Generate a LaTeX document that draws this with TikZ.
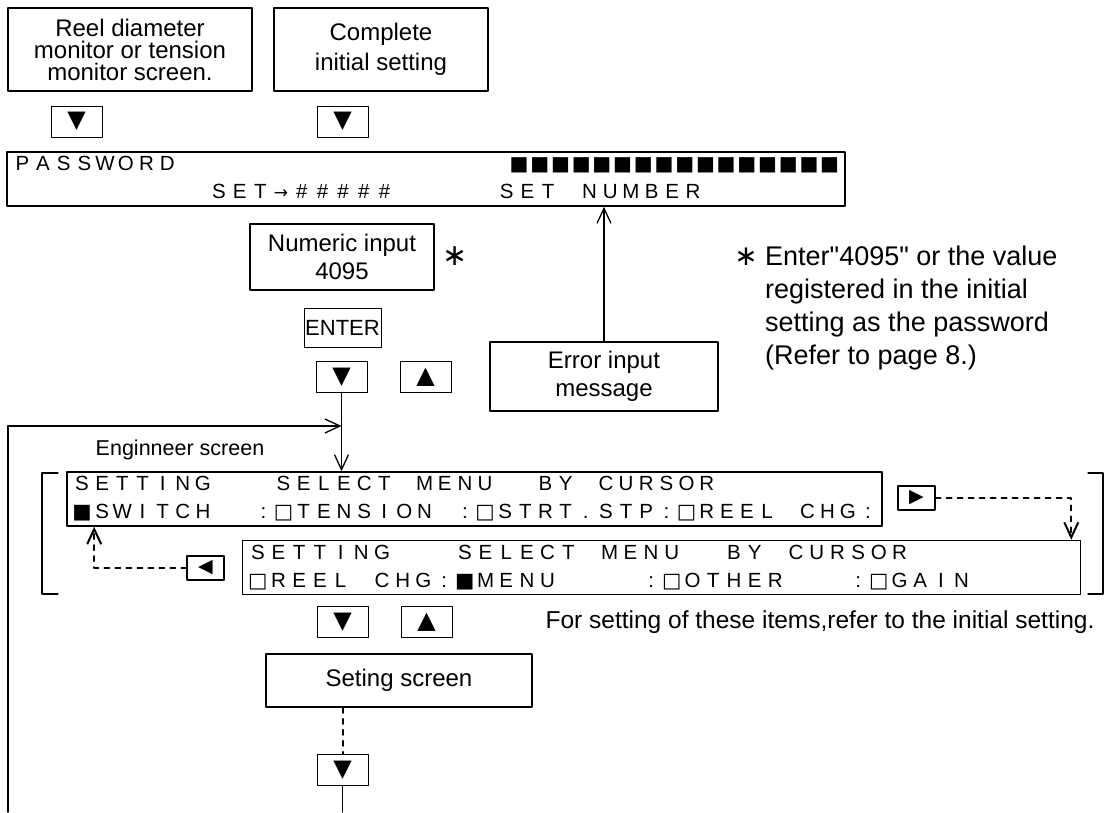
\documentclass[tikz,border=0pt]{standalone}
\usepackage{fontspec}
\setmainfont{Liberation Sans}
\newfontfamily\symfont{DejaVu Sans}
\usetikzlibrary{arrows.meta, calc, positioning}
% one LCD cell per character
\newlength\lcdw
\setlength\lcdw{20.7pt}
\def\lcdend{\lcdend}
\def\lcdnext#1{\ifx#1\lcdend\else\makebox[\lcdw]{#1}\expandafter\lcdnext\fi}
\newcommand\lcd[1]{\lcdnext#1\lcdend}
\newcommand\lcdgap[1]{\hspace*{#1\lcdw}}
\newcommand\blk{{\symfont ■}}
\newcommand\bigblk{{\symfont\fontsize{20}{20}\selectfont ■}}
\newcommand\wht{{\symfont □}}
\newcommand\lcdarrow{{\symfont\fontsize{17}{17}\selectfont →}}
\newcommand\lcdstrut{\rule[-5pt]{0pt}{21pt}}
\tikzset{
  >={Straight Barb[length=15pt, width=14pt]},
  every picture/.style={line cap=round, line join=round},
  px/.style={x=1pt, y=-1pt},
  label box/.style={draw, line width=1.6pt, align=center, inner sep=0pt, font=\fontsize{24}{28}\selectfont},
  keybox/.style={draw, line width=0.9pt, inner sep=0pt, minimum width=51pt, minimum height=31pt, font=\symfont\fontsize{24}{24}\selectfont},
  smallkey/.style={keybox, line width=1.4pt, minimum width=37pt, minimum height=24pt, font=\symfont\fontsize{19}{19}\selectfont},
  lcd box/.style={draw, line width=1.6pt, text width=828pt, align=left, inner xsep=5pt, inner ysep=0pt, minimum height=54pt, font=\fontsize{20.5}{28}\selectfont},
  flow/.style={line width=1.3pt},
  cursorline/.style={line width=2pt, dash pattern=on 5pt off 6pt},
  notetext/.style={inner sep=0pt, font=\fontsize{27}{33}\selectfont},
}
\begin{document}
\begin{tikzpicture}[px]
  \useasboundingbox (0,0) rectangle (1104,812);
  % where we come from
  \node[label box, minimum width=244pt, minimum height=83pt, font=\fontsize{24}{22}\selectfont] (reel) at (130,49.5) {Reel diameter\\monitor or tension\\monitor screen.};
  \node[label box, minimum width=214pt, minimum height=83pt, font=\fontsize{24}{30}\selectfont] (init) at (381,49.5) {Complete\\initial setting};
  \node[keybox] (reeldown) at (76.5,121.5) {▼};
  \node[keybox] (initdown) at (342.5,121.5) {▼};
  % password screen
  \node[lcd box] (pass) at (426,179) {\lcdstrut\lcd{PASSWORD}\lcdgap{16}\lcd{\bigblk\bigblk\bigblk\bigblk\bigblk\bigblk\bigblk\bigblk\bigblk\bigblk\bigblk\bigblk\bigblk\bigblk\bigblk\bigblk}\\
    \lcdstrut\lcdgap{9.5}\lcd{SET\lcdarrow\#\#\#\#\#}\lcdgap{4.9}\lcd{SET~NUMBER}};
  \node[label box] (numin) at (342,257) [minimum width=184pt, minimum height=66pt] {Numeric input\\4095};
  \node[inner sep=0pt, font=\symfont\fontsize{30}{30}\selectfont] (numstar) at (455,256) {∗};
  \node[draw, line width=0.9pt, inner sep=0pt, minimum width=77pt, minimum height=39pt, font=\fontsize{22}{22}\selectfont] (enter) at (342.5,327.5) {ENTER};
  \node[keybox] (passdown) at (341.5,377) {▼};
  \node[keybox] (passup) at (425.5,377) {▲};
  \node[label box, minimum width=228pt, minimum height=69pt] (err) at (604,376.5) {Error input\\message};
  \draw[flow, ->] (err.north) -- (err.north |- pass.south);
  % footnote for the password
  \node[notetext, font=\symfont\fontsize{28}{28}\selectfont] (notestar) at (746,257) {∗};
  \node[notetext, align=left, anchor=north west] (note) at (765,246) {Enter\textquotedbl 4095\textquotedbl{} or the value\\registered in the initial\\setting as the password\\(Refer to page 8.)};
  % engineer screen
  \coordinate (joinlevel) at (0,426);
  \coordinate (loopfoot) at (8,812);
  \coordinate (loopjoin) at (passdown.south |- joinlevel);
  \node[inner sep=0pt, font=\fontsize{21.5}{21.5}\selectfont] (engtitle) at (180,450) {Enginneer screen};
  \node[lcd box, text width=805pt] (eng1) at (474.5,499) {\setlength\lcdw{20.15pt}\lcdstrut\lcd{SETTING}\lcdgap{3}\lcd{SELECT~MENU}\lcdgap{2}\lcd{BY~CURSOR}\\
    \lcdstrut\lcd{\blk SWITCH~~:\wht TENSION~:\wht STRT.STP:\wht REEL~CHG:}};
  \node[lcd box] (eng2) at (661.5,567.5) {\lcdstrut\lcd{SETTING}\lcdgap{3}\lcd{SELECT~MENU}\lcdgap{2}\lcd{BY~CURSOR}\\
    \lcdstrut\lcd{\wht REEL~CHG:\blk MENU~~~~:\wht OTHER~~~:\wht GAIN}};
  \draw[flow] (58,473) -- (42,473) -- (42,594) -- (58,594);
  \draw[flow] (1088,473) -- (1103,473) -- (1103,594) -- (1088,594);
  \node[smallkey] (engright) at (916.5,498) {▶};
  \node[smallkey] (engleft) at (205.5,568) {◀};
  \draw[cursorline, ->] (engright.east) -| ($(eng2.north east)+(-10,0)$);
  \draw[cursorline, ->] (engleft.west) -| ($(eng1.south west)+(28,0)$);
  \draw[flow, ->] (loopfoot) |- (loopjoin);
  \draw[flow, ->] (passdown.south) -- (passdown.south |- eng1.north);
  % down to the setting screens
  \node[keybox] (engdown) at (342.5,622) {▼};
  \node[keybox] (engup) at (426.5,622) {▲};
  \node[notetext, font=\fontsize{24.5}{24.5}\selectfont] (itemnote) at (820,622) {For setting of these items,refer to the initial setting.};
  \node[label box, minimum width=266pt, minimum height=53pt] (setscr) at (399,680.5) {Seting screen};
  \node[keybox] (setdown) at (342.5,770) {▼};
  \coordinate (setfoot) at (342.5,812);
  \draw[cursorline] (setdown.north |- setscr.south) -- (setdown.north);
  \draw[flow] (setdown.south) -- (setfoot);
\end{tikzpicture}
\end{document}
